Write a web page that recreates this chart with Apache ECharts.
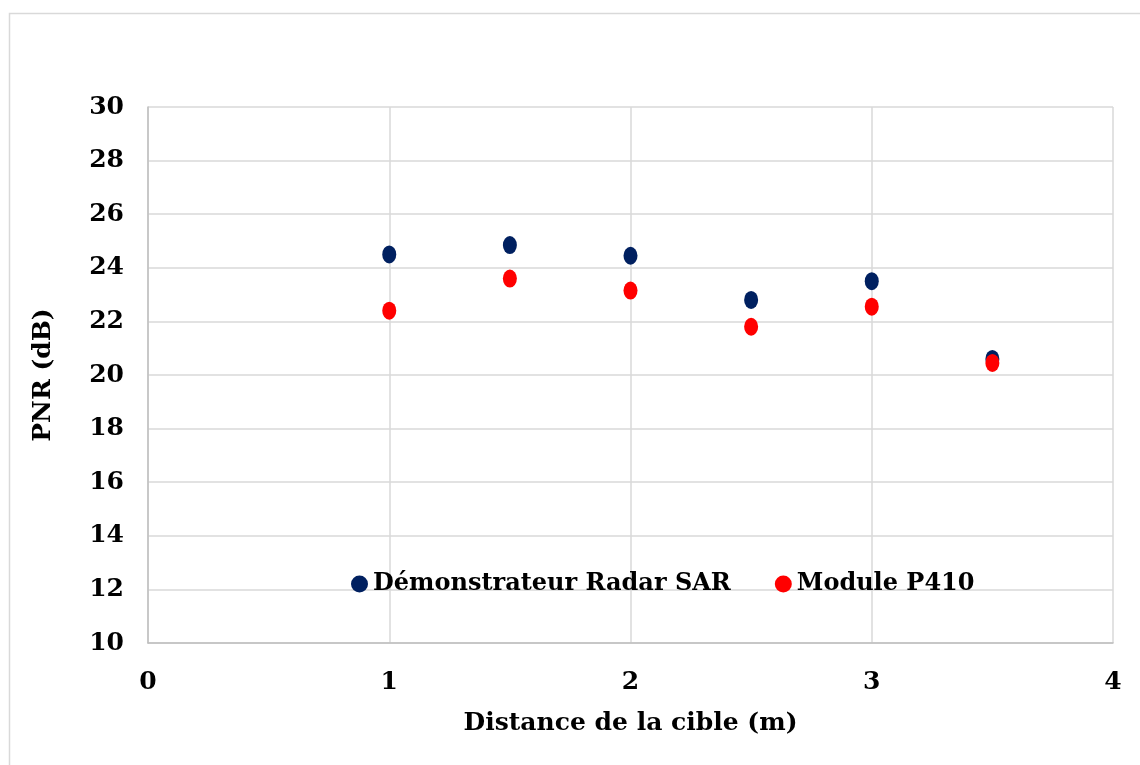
<!DOCTYPE html>
<html>
<head>
<meta charset="utf-8">
<script src="https://cdn.jsdelivr.net/npm/echarts@6/dist/echarts.min.js"></script>
<style>html,body{margin:0;padding:0;background:#fff}#c{width:1140px;height:765px}</style>
</head>
<body>
<div id="c"></div>
<script>
const distances = [1, 1.5, 2, 2.5, 3, 3.5];
const demonstrateur = [24.5, 24.85, 24.45, 22.8, 23.5, 20.6];
const moduleP410 = [22.4, 23.6, 23.15, 21.8, 22.55, 20.45];
const seriesNames = ['Démonstrateur Radar SAR', 'Module P410'];
const xTicks = [0, 1, 2, 3, 4];
const yTicks = [10, 12, 14, 16, 18, 20, 22, 24, 26, 28, 30];

const FONT = '"DejaVu Serif", "Liberation Serif", serif';
const chart = echarts.init(document.getElementById('c'), null, {renderer: 'canvas'});
chart.setOption({
  animation: false,
  backgroundColor: '#fff',
  graphic: [{
    type: 'rect', left: 7, top: 11, z: -1,
    shape: {width: 1300, height: 900},
    style: {fill: 'none', stroke: '#d9d9d9', lineWidth: 1.5}
  }],
  grid: {left: 148, right: 27, top: 107, bottom: 122},
  legend: {
    data: seriesNames,
    left: 346, top: 567,
    itemGap: 44,
    itemWidth: 17, itemHeight: 17,
    textStyle: {fontFamily: FONT, fontWeight: 'bold', fontSize: 24, color: '#000', padding: [0, 0, 0, 0]}
  },
  xAxis: {
    type: 'value', min: xTicks[0], max: xTicks[xTicks.length - 1], interval: 1,
    name: 'Distance de la cible (m)', nameLocation: 'middle', nameGap: 68,
    nameTextStyle: {fontFamily: FONT, fontWeight: 'bold', fontSize: 25, color: '#000'},
    axisLine: {show: true, lineStyle: {color: '#bfbfbf', width: 1.5}},
    axisTick: {show: false},
    axisLabel: {fontFamily: FONT, fontWeight: 'bold', fontSize: 25, color: '#000', margin: 27},
    splitLine: {show: true, lineStyle: {color: '#d9d9d9', width: 1.5}}
  },
  yAxis: {
    type: 'value', min: yTicks[0], max: yTicks[yTicks.length - 1], interval: 2,
    name: 'PNR (dB)', nameLocation: 'middle', nameGap: 92,
    nameTextStyle: {fontFamily: FONT, fontWeight: 'bold', fontSize: 25, color: '#000'},
    axisLine: {show: true, lineStyle: {color: '#bfbfbf', width: 1.5}},
    axisTick: {show: false},
    axisLabel: {fontFamily: FONT, fontWeight: 'bold', fontSize: 25, color: '#000', margin: 24},
    splitLine: {show: true, lineStyle: {color: '#d9d9d9', width: 1.5}}
  },
  series: [
    {
      name: seriesNames[0], type: 'scatter', symbol: 'circle', symbolSize: [14, 18],
      itemStyle: {color: '#002060', opacity: 1},
      data: distances.map((d, i) => [d, demonstrateur[i]])
    },
    {
      name: seriesNames[1], type: 'scatter', symbol: 'circle', symbolSize: [14, 18],
      itemStyle: {color: '#ff0000', opacity: 1},
      data: distances.map((d, i) => [d, moduleP410[i]])
    }
  ]
});
</script>
</body>
</html>
